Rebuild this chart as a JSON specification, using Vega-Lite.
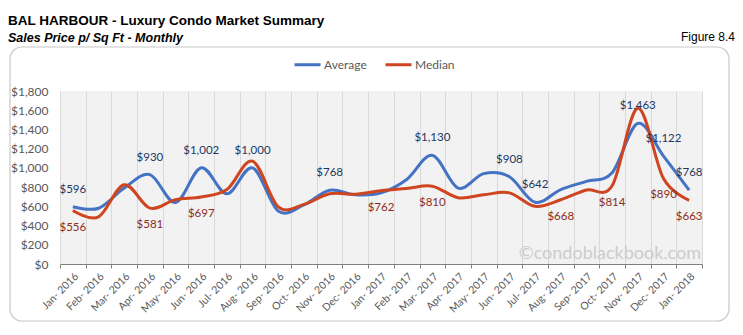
{
  "$schema": "https://vega.github.io/schema/vega-lite/v6.json",
  "autosize": {"type": "none"},
  "width": 642,
  "height": 173,
  "padding": {"left": 60, "top": 91, "right": 41, "bottom": 71},
  "background": "white",
  "config": {
    "view": {"fill": "#f2f2f2", "stroke": null},
    "font": "Lato"
  },
  "title": {
    "text": "BAL HARBOUR - Luxury Condo Market Summary",
    "subtitle": "Sales Price  p/ Sq Ft - Monthly",
    "anchor": "start",
    "frame": "group",
    "dx": -52,
    "offset": -13,
    "font": "Liberation Sans",
    "fontSize": 13.5,
    "fontWeight": "bold",
    "color": "#000000",
    "subtitleFont": "Liberation Sans",
    "subtitleFontSize": 12.5,
    "subtitleFontWeight": "bold",
    "subtitleFontStyle": "italic",
    "subtitleColor": "#000000",
    "subtitlePadding": 4
  },
  "data": {
    "values": [
      {"m": "Jan- 2016", "s": "Average", "v": 596, "l": 1},
      {"m": "Feb- 2016", "s": "Average", "v": 580, "l": 0},
      {"m": "Mar- 2016", "s": "Average", "v": 790, "l": 0},
      {"m": "Apr- 2016", "s": "Average", "v": 930, "l": 1},
      {"m": "May- 2016", "s": "Average", "v": 640, "l": 0},
      {"m": "Jun- 2016", "s": "Average", "v": 1002, "l": 1},
      {"m": "Jul- 2016", "s": "Average", "v": 730, "l": 0},
      {"m": "Aug- 2016", "s": "Average", "v": 1000, "l": 1},
      {"m": "Sep- 2016", "s": "Average", "v": 550, "l": 0},
      {"m": "Oct- 2016", "s": "Average", "v": 615, "l": 0},
      {"m": "Nov- 2016", "s": "Average", "v": 768, "l": 1},
      {"m": "Dec- 2016", "s": "Average", "v": 720, "l": 0},
      {"m": "Jan- 2017", "s": "Average", "v": 740, "l": 0},
      {"m": "Feb- 2017", "s": "Average", "v": 880, "l": 0},
      {"m": "Mar- 2017", "s": "Average", "v": 1130, "l": 1},
      {"m": "Apr- 2017", "s": "Average", "v": 790, "l": 0},
      {"m": "May- 2017", "s": "Average", "v": 940, "l": 0},
      {"m": "Jun- 2017", "s": "Average", "v": 908, "l": 1},
      {"m": "Jul- 2017", "s": "Average", "v": 642, "l": 1},
      {"m": "Aug- 2017", "s": "Average", "v": 775, "l": 0},
      {"m": "Sep- 2017", "s": "Average", "v": 860, "l": 0},
      {"m": "Oct- 2017", "s": "Average", "v": 950, "l": 0},
      {"m": "Nov- 2017", "s": "Average", "v": 1463, "l": 1},
      {"m": "Dec- 2017", "s": "Average", "v": 1122, "l": 1},
      {"m": "Jan- 2018", "s": "Average", "v": 768, "l": 1},
      {"m": "Jan- 2016", "s": "Median", "v": 556, "l": 1},
      {"m": "Feb- 2016", "s": "Median", "v": 490, "l": 0},
      {"m": "Mar- 2016", "s": "Median", "v": 825, "l": 0},
      {"m": "Apr- 2016", "s": "Median", "v": 581, "l": 1},
      {"m": "May- 2016", "s": "Median", "v": 670, "l": 0},
      {"m": "Jun- 2016", "s": "Median", "v": 697, "l": 1},
      {"m": "Jul- 2016", "s": "Median", "v": 775, "l": 0},
      {"m": "Aug- 2016", "s": "Median", "v": 1070, "l": 0},
      {"m": "Sep- 2016", "s": "Median", "v": 595, "l": 0},
      {"m": "Oct- 2016", "s": "Median", "v": 620, "l": 0},
      {"m": "Nov- 2016", "s": "Median", "v": 730, "l": 0},
      {"m": "Dec- 2016", "s": "Median", "v": 725, "l": 0},
      {"m": "Jan- 2017", "s": "Median", "v": 762, "l": 1},
      {"m": "Feb- 2017", "s": "Median", "v": 785, "l": 0},
      {"m": "Mar- 2017", "s": "Median", "v": 810, "l": 1},
      {"m": "Apr- 2017", "s": "Median", "v": 690, "l": 0},
      {"m": "May- 2017", "s": "Median", "v": 720, "l": 0},
      {"m": "Jun- 2017", "s": "Median", "v": 740, "l": 0},
      {"m": "Jul- 2017", "s": "Median", "v": 600, "l": 0},
      {"m": "Aug- 2017", "s": "Median", "v": 668, "l": 1},
      {"m": "Sep- 2017", "s": "Median", "v": 770, "l": 0},
      {"m": "Oct- 2017", "s": "Median", "v": 814, "l": 1},
      {"m": "Nov- 2017", "s": "Median", "v": 1620, "l": 0},
      {"m": "Dec- 2017", "s": "Median", "v": 890, "l": 1},
      {"m": "Jan- 2018", "s": "Median", "v": 663, "l": 1}
    ]
  },
  "encoding": {
    "x": {
      "field": "m",
      "type": "ordinal",
      "sort": null,
      "scale": {"type": "band", "paddingInner": 0, "paddingOuter": 0},
      "axis": {
        "title": null,
        "tickBand": "extent",
        "labelAngle": -45,
        "labelFont": "Lato",
        "labelFontSize": 10.5,
        "labelColor": "#595959",
        "labelPadding": 3,
        "domainColor": "#808080",
        "tickColor": "#808080",
        "tickSize": 4,
        "grid": true,
        "gridColor": "#d9d9d9",
        "gridWidth": 1
      }
    },
    "y": {
      "field": "v",
      "type": "quantitative",
      "scale": {"domain": [0, 1800], "nice": false},
      "axis": {
        "title": null,
        "values": [0, 200, 400, 600, 800, 1000, 1200, 1400, 1600, 1800],
        "format": "$,.0f",
        "grid": false,
        "domain": false,
        "ticks": false,
        "labelFont": "Lato",
        "labelFontSize": 12,
        "labelColor": "#595959",
        "labelPadding": 12
      }
    }
  },
  "layer": [
    {
      "data": {"values": [{}]},
      "mark": {"type": "rect", "fill": null, "stroke": "#c8c8c8", "strokeWidth": 1.2, "cornerRadius": 12},
      "encoding": {
        "x": {"value": -50},
        "x2": {"value": 669},
        "y": {"value": -44},
        "y2": {"value": 230}
      }
    },
    {
      "mark": {"type": "line", "interpolate": "cardinal", "strokeWidth": 3},
      "encoding": {
        "color": {
          "field": "s",
          "type": "nominal",
          "scale": {"domain": ["Average", "Median"], "range": ["#4472C4", "#CF4520"]},
          "legend": {
            "orient": "none",
            "legendX": 233,
            "legendY": -41,
            "direction": "horizontal",
            "title": null,
            "symbolType": "stroke",
            "symbolSize": 676,
            "symbolStrokeWidth": 3,
            "labelFont": "Lato",
            "labelFontSize": 12,
            "labelColor": "#595959",
            "labelOffset": 2,
            "columnPadding": 12
          }
        }
      }
    },
    {
      "transform": [{"filter": "datum.l == 1 && datum.s == 'Average'"}],
      "mark": {"type": "text", "baseline": "middle", "dy": -17, "font": "Lato", "fontSize": 11.5, "color": "#203864"},
      "encoding": {"text": {"field": "v", "type": "quantitative", "format": "$,.0f"}}
    },
    {
      "transform": [{"filter": "datum.l == 1 && datum.s == 'Median'"}],
      "mark": {"type": "text", "baseline": "middle", "dy": 17, "font": "Lato", "fontSize": 11.5, "color": "#8C2D19"},
      "encoding": {"text": {"field": "v", "type": "quantitative", "format": "$,.0f"}}
    },
    {
      "data": {"values": [{"t": "©condoblackbook.com"}]},
      "mark": {"type": "text", "align": "right", "baseline": "alphabetic", "font": "Lato", "fontSize": 18, "color": "#cccccc"},
      "encoding": {
        "text": {"field": "t"},
        "x": {"value": 641},
        "y": {"value": 168}
      }
    },
    {
      "data": {"values": [{"t": "Figure 8.4"}]},
      "mark": {"type": "text", "align": "right", "baseline": "alphabetic", "font": "Liberation Sans", "fontSize": 12, "color": "#000000"},
      "encoding": {
        "text": {"field": "t"},
        "x": {"value": 675},
        "y": {"value": -50}
      }
    }
  ]
}
